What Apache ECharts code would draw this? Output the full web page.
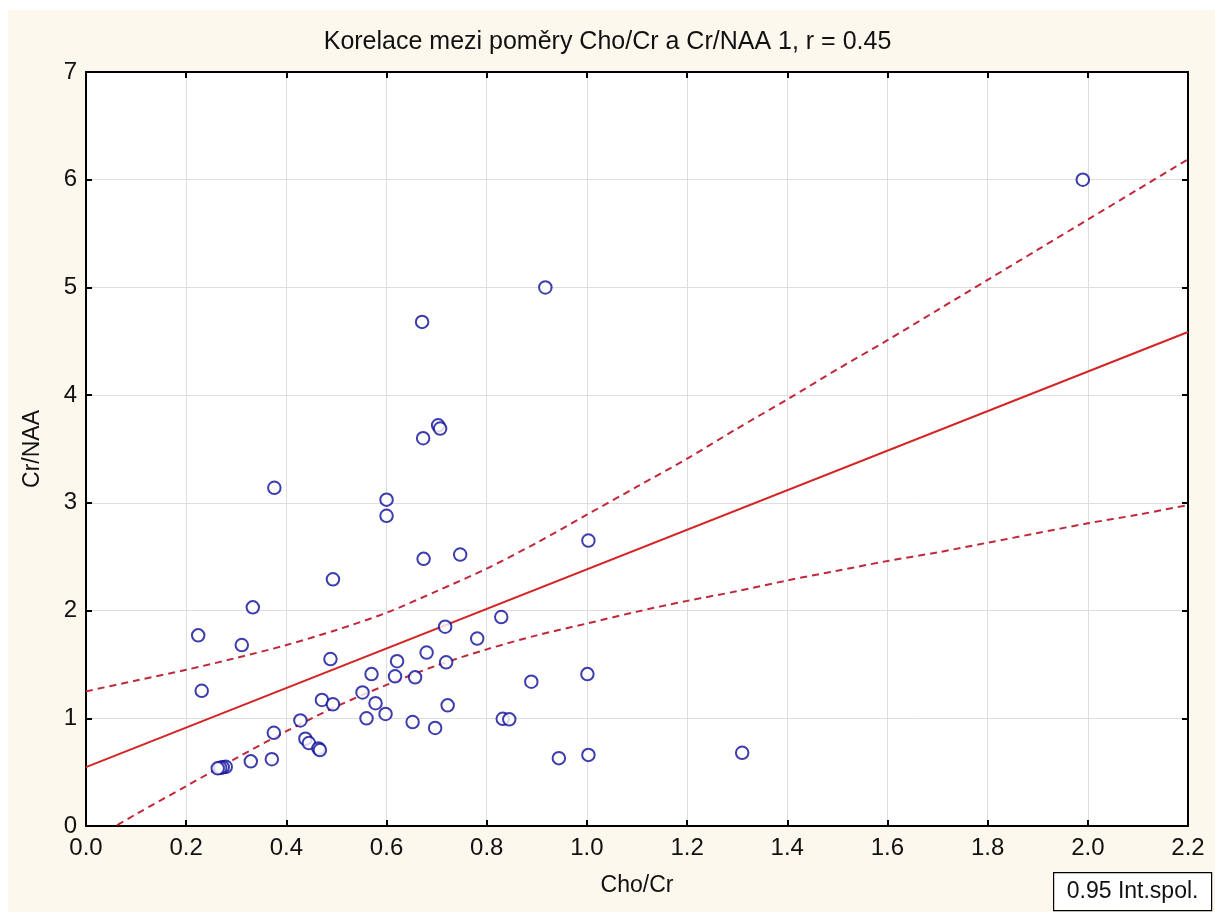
<!DOCTYPE html>
<html>
<head>
<meta charset="utf-8">
<script src="https://cdn.jsdelivr.net/npm/echarts@6/dist/echarts.min.js"></script>
<style>
  html, body { margin: 0; padding: 0; background: #ffffff; }
  #chart { width: 1215px; height: 912px; }
</style>
</head>
<body>
<div id="chart"></div>
<script>
// Measured ratios per patient: Cho/Cr (x) and Cr/NAA (y)
const choCr = [1.99, 0.917, 0.671, 0.703, 0.707, 0.673, 0.376, 0.600, 0.600, 1.003,
               0.747, 0.674, 0.493, 0.333, 0.829, 0.717, 0.224, 0.781, 0.311, 0.680,
               0.488, 0.621, 0.719, 1.001, 0.570, 0.617, 0.657, 0.889, 0.231, 0.552,
               0.471, 0.578, 0.493, 0.722, 0.598, 0.560, 0.832, 0.845, 0.428, 0.652,
               0.697, 0.375, 0.438, 0.445, 0.464, 0.467, 1.310, 1.003, 0.944, 0.371,
               0.329, 0.279, 0.273, 0.268, 0.263];
const crNaa = [6.00, 5.00, 4.68, 3.72, 3.69, 3.60, 3.14, 3.03, 2.88, 2.65,
               2.52, 2.48, 2.29, 2.03, 1.94, 1.85, 1.77, 1.74, 1.68, 1.61,
               1.55, 1.53, 1.52, 1.41, 1.41, 1.39, 1.38, 1.34, 1.255, 1.24,
               1.17, 1.14, 1.13, 1.12, 1.04, 1.00, 0.995, 0.99, 0.98, 0.965,
               0.91, 0.865, 0.81, 0.77, 0.72, 0.705, 0.68, 0.66, 0.63, 0.62,
               0.60, 0.55, 0.545, 0.54, 0.535];

// Regression line end points
const fitX = [0.0, 2.2];
const fitY = [0.547, 4.586];

// 0.95 confidence band, sampled along Cho/Cr
const bandX = [0.0, 0.1, 0.2, 0.3, 0.4, 0.5, 0.6, 0.7, 0.8, 0.9, 1.0, 1.1,
               1.2, 1.3, 1.4, 1.5, 1.6, 1.7, 1.8, 1.9, 2.0, 2.1, 2.2];
const bandUpper = [1.25, 1.35, 1.45, 1.56, 1.68, 1.82, 1.98, 2.18, 2.39, 2.63, 2.89, 3.15,
                   3.41, 3.69, 3.96, 4.24, 4.51, 4.79, 5.07, 5.35, 5.63, 5.91, 6.19];
const bandLower = [-0.16, 0.11, 0.37, 0.63, 0.88, 1.11, 1.31, 1.49, 1.64, 1.77, 1.88, 1.99,
                   2.09, 2.18, 2.28, 2.37, 2.46, 2.54, 2.63, 2.72, 2.81, 2.89, 2.98];

const titleText = 'Korelace mezi poměry Cho/Cr a Cr/NAA 1, r = 0.45';
const xName = 'Cho/Cr';
const yName = 'Cr/NAA';
const bandLabel = '0.95 Int.spol.';

const FONT = '"Liberation Sans", Arial, sans-serif';
const zip = (xs, ys) => xs.map((x, i) => [x, ys[i]]);

// Black frame line and short inward ticks, shared by all four sides
const frameLine = { show: true, onZero: false, lineStyle: { color: '#000', width: 2 } };
const frameTick = () => ({ show: true, inside: true, length: 6, lineStyle: { color: '#000', width: 2 } });

const chart = echarts.init(document.getElementById('chart'), null, { renderer: 'canvas' });
chart.setOption({
  animation: false,
  backgroundColor: '#fcf8ee',
  title: {
    text: titleText,
    left: 'center',
    top: 25,
    textStyle: { fontFamily: FONT, fontSize: 25, fontWeight: 'normal', color: '#111' }
  },
  graphic: [
    { type: 'rect', left: 0, top: 0, shape: { width: 1215, height: 10 }, style: { fill: '#ffffff' } },
    { type: 'rect', left: 0, top: 0, shape: { width: 8, height: 912 }, style: { fill: '#ffffff' } },
    {
      type: 'group', left: 1053, top: 872,
      children: [
        { type: 'rect', shape: { x: 0, y: 0, width: 158, height: 38 },
          style: { fill: '#ffffff', stroke: '#000', lineWidth: 1.2 } },
        { type: 'text', x: 79, y: 19,
          style: { text: bandLabel, fontFamily: FONT, fontSize: 23, fill: '#111',
                   align: 'center', verticalAlign: 'middle' } }
      ]
    }
  ],
  grid: {
    left: 86, right: 27, top: 72, bottom: 86,
    show: true, backgroundColor: '#ffffff', borderWidth: 0
  },
  xAxis: [
    {
      type: 'value', min: 0, max: 2.2, interval: 0.2, position: 'bottom',
      name: xName, nameLocation: 'middle', nameGap: 48,
      nameTextStyle: { fontFamily: FONT, fontSize: 23, color: '#111' },
      axisLine: frameLine,
      axisTick: frameTick(),
      axisLabel: { fontFamily: FONT, fontSize: 24, color: '#111', margin: 10,
                   formatter: v => v.toFixed(1) },
      splitLine: { show: true, lineStyle: { color: '#dedede', width: 1 } }
    },
    {
      type: 'value', min: 0, max: 2.2, interval: 0.2, position: 'top',
      axisLine: frameLine,
      axisTick: frameTick(),
      axisLabel: { show: false }, splitLine: { show: false }
    }
  ],
  yAxis: [
    {
      type: 'value', min: 0, max: 7, interval: 1, position: 'left',
      name: yName, nameLocation: 'middle', nameGap: 42, nameRotate: 90,
      nameTextStyle: { fontFamily: FONT, fontSize: 23, color: '#111' },
      axisLine: frameLine,
      axisTick: frameTick(),
      axisLabel: { fontFamily: FONT, fontSize: 24, color: '#111', margin: 9 },
      splitLine: { show: true, lineStyle: { color: '#dedede', width: 1 } }
    },
    {
      type: 'value', min: 0, max: 7, interval: 1, position: 'right',
      axisLine: frameLine,
      axisTick: frameTick(),
      axisLabel: { show: false }, splitLine: { show: false }
    }
  ],
  series: [
    {
      type: 'line', name: 'upper', data: zip(bandX, bandUpper), smooth: 0.3,
      showSymbol: false, clip: true, z: 2,
      lineStyle: { color: '#c0283a', width: 2, type: [7, 5] }
    },
    {
      type: 'line', name: 'lower', data: zip(bandX, bandLower), smooth: 0.3,
      showSymbol: false, clip: true, z: 2,
      lineStyle: { color: '#c0283a', width: 2, type: [7, 5] }
    },
    {
      type: 'line', name: 'fit', data: zip(fitX, fitY),
      showSymbol: false, clip: true, z: 3,
      lineStyle: { color: '#d42424', width: 2 }
    },
    {
      type: 'scatter', name: 'data', data: zip(choCr, crNaa), z: 4,
      symbol: 'emptyCircle', symbolSize: 12.5,
      itemStyle: { color: '#0c0c9a', borderColor: '#0c0c9a', borderWidth: 2.2 }
    }
  ]
});
</script>
</body>
</html>
